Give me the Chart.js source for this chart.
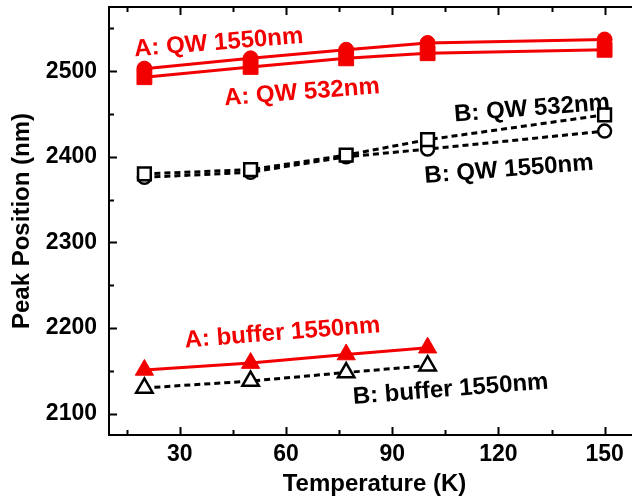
<!DOCTYPE html>
<html>
<head>
<meta charset="utf-8">
<script src="https://cdn.jsdelivr.net/npm/chart.js@4/dist/chart.umd.min.js"></script>
<style>
html,body{margin:0;padding:0;overflow:hidden;background:#fff}
#wrap{width:645px;height:499px}
</style>
</head>
<body>
<div id="wrap"><canvas id="c" width="645" height="499"></canvas></div>
<script>
// ---- data ----
const temperatures = [20, 50, 77, 100, 150];
const bufferTemperatures = [20, 50, 77, 100];
const aQw1550 = [2503, 2515, 2525, 2533, 2537];
const aQw532 = [2493, 2505, 2515, 2521, 2525];
const bQw532 = [2380, 2385, 2402, 2420, 2449];
const bQw1550 = [2376, 2382, 2400, 2409, 2430];
const aBuffer1550 = [2151, 2159, 2169, 2177];
const bBuffer1550 = [2130, 2138, 2148, 2156];
const xTickValues = [30, 60, 90, 120, 150];
const yTickValues = [2100, 2200, 2300, 2400, 2500];
const annotationTexts = ['A: QW 1550nm', 'A: QW 532nm', 'B: QW 532nm', 'B: QW 1550nm', 'A: buffer 1550nm', 'B: buffer 1550nm'];
const annotationT = [41, 64.5, 129.5, 123, 59, 106.5];
const annotationPeak = [2533, 2475, 2456, 2385, 2194, 2128];
const annotationIsA = [true, true, false, false, true, false];

// ---- style ----
const RED = '#f20000';
const BLACK = '#000000';
const FONT = '"Liberation Sans", Arial, sans-serif';

const pts = (xs, ys) => xs.map((x, i) => ({x, y: ys[i]}));

const frameAndTicks = {
  id: 'frameAndTicks',
  beforeLayout(chart) {
    Object.values(chart.scales).forEach(s => {
      s.getPadding = () => ({left: 0, top: 0, right: 0, bottom: 0});
    });
  },
  afterDraw(chart) {
    const {ctx, chartArea: a, scales: {x, y}} = chart;
    ctx.save();
    ctx.strokeStyle = BLACK;
    ctx.lineWidth = 2;
    ctx.strokeRect(a.left, a.top, a.right - a.left, a.bottom - a.top);
    const major = 8, minor = 5;
    ctx.beginPath();
    for (let v = 15; v <= x.max; v += 15) {
      const px = Math.round(x.getPixelForValue(v)) + 0.5;
      const len = (v % 30 === 0) ? major : minor;
      ctx.moveTo(px, a.bottom); ctx.lineTo(px, a.bottom - len);
      ctx.moveTo(px, a.top); ctx.lineTo(px, a.top + len);
    }
    for (let v = 2100; v <= y.max; v += 50) {
      const py = Math.round(y.getPixelForValue(v)) + 0.5;
      const len = (v % 100 === 0) ? major : minor;
      ctx.moveTo(a.left, py); ctx.lineTo(a.left + len, py);
      ctx.moveTo(a.right, py); ctx.lineTo(a.right - len, py);
    }
    ctx.stroke();
    ctx.restore();
  },
  afterDatasetsDraw(chart) {
    const {ctx, scales: {x, y}} = chart;
    ctx.save();
    ctx.font = 'bold 24px ' + FONT;
    ctx.textAlign = 'center';
    ctx.textBaseline = 'middle';
    annotationTexts.forEach((t, i) => {
      ctx.save();
      ctx.translate(x.getPixelForValue(annotationT[i]), y.getPixelForValue(annotationPeak[i]));
      ctx.rotate(-4.5 * Math.PI / 180);
      ctx.fillStyle = annotationIsA[i] ? RED : BLACK;
      ctx.fillText(t, 0, 0);
      ctx.restore();
    });
    ctx.restore();
  }
};

new Chart(document.getElementById('c'), {
  type: 'scatter',
  data: {
    datasets: [
      {label: 'A: QW 1550nm', data: pts(temperatures, aQw1550), showLine: true,
       borderColor: RED, backgroundColor: RED, borderWidth: 3,
       pointStyle: 'circle', pointRadius: 7.5, pointBorderWidth: 1},
      {label: 'A: QW 532nm', data: pts(temperatures, aQw532), showLine: true,
       borderColor: RED, backgroundColor: RED, borderWidth: 3,
       pointStyle: 'rect', pointRadius: 10.5, pointBorderWidth: 1},
      {label: 'B: QW 532nm', data: pts(temperatures, bQw532), showLine: true,
       borderColor: BLACK, backgroundColor: '#fff', borderWidth: 3, borderDash: [6, 4],
       pointStyle: 'rect', pointRadius: 9, pointBorderWidth: 2.5},
      {label: 'B: QW 1550nm', data: pts(temperatures, bQw1550), showLine: true,
       borderColor: BLACK, backgroundColor: '#fff', borderWidth: 3, borderDash: [6, 4],
       pointStyle: 'circle', pointRadius: 6.5, pointBorderWidth: 2.5},
      {label: 'A: buffer 1550nm', data: pts(bufferTemperatures, aBuffer1550), showLine: true,
       borderColor: RED, backgroundColor: RED, borderWidth: 3,
       pointStyle: 'triangle', pointRadius: 10.5, pointBorderWidth: 1},
      {label: 'B: buffer 1550nm', data: pts(bufferTemperatures, bBuffer1550), showLine: true,
       borderColor: BLACK, backgroundColor: '#fff', borderWidth: 3, borderDash: [6, 4],
       pointStyle: 'triangle', pointRadius: 9.5, pointBorderWidth: 2.5}
    ]
  },
  options: {
    responsive: false,
    animation: false,
    layout: {autoPadding: false, padding: {left: 0, top: 7, right: 5, bottom: 0}},
    plugins: {legend: {display: false}, tooltip: {enabled: false}},
    elements: {line: {tension: 0}},
    scales: {
      x: {
        type: 'linear', min: 10, max: 160,
        afterBuildTicks: s => { s.ticks = xTickValues.map(v => ({value: v})); },
        afterFit: s => { s.height = 64; },
        grid: {display: false, drawTicks: false},
        border: {display: false},
        ticks: {color: BLACK, padding: 6, callback: v => String(v),
                font: {family: FONT, size: 23, weight: 'bold'}},
        title: {display: true, text: 'Temperature (K)', color: BLACK,
                padding: {top: 0, bottom: 0}, font: {family: FONT, size: 24, weight: 'bold'}}
      },
      y: {
        type: 'linear', min: 2075, max: 2575,
        afterBuildTicks: s => { s.ticks = yTickValues.map(v => ({value: v})); },
        afterFit: s => { s.width = 109; },
        grid: {display: false, drawTicks: false},
        border: {display: false},
        ticks: {color: BLACK, padding: 12, callback: v => String(v),
                font: {family: FONT, size: 23, weight: 'bold'}},
        title: {display: true, text: 'Peak Position (nm)', color: BLACK,
                padding: {top: 8, bottom: 0}, font: {family: FONT, size: 24, weight: 'bold'}}
      }
    }
  },
  plugins: [frameAndTicks]
});
</script>
</body>
</html>
